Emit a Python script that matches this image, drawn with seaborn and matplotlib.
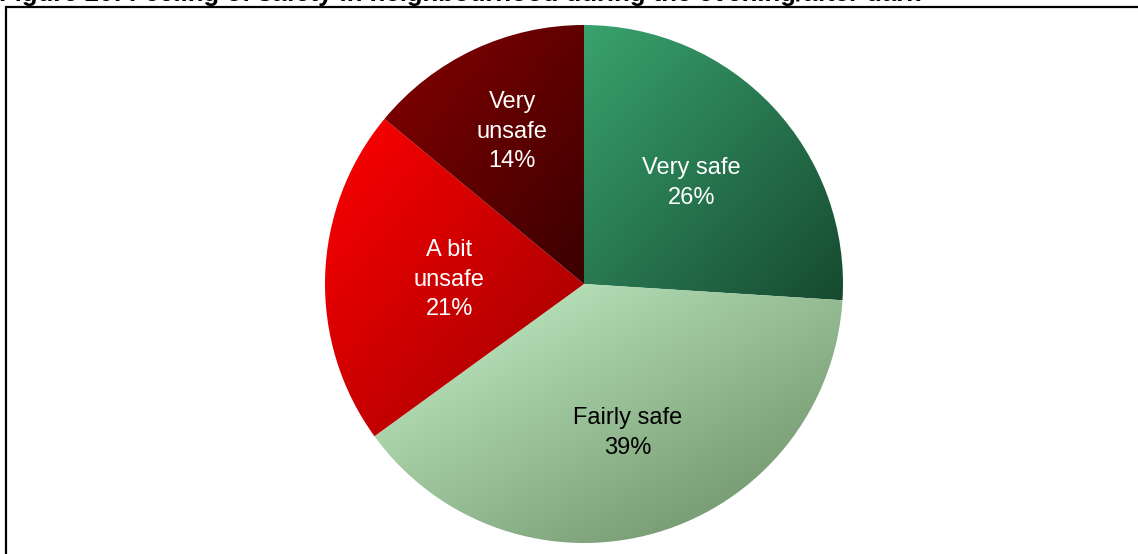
"""Pie chart: feeling of safety in neighbourhood during the evening/after dark."""
import matplotlib.pyplot as plt
import numpy as np
import seaborn as sns
from matplotlib.colors import LinearSegmentedColormap
from matplotlib.patches import Rectangle

TITULO = "Figure 20: Feeling of safety in neighbourhood during the evening/after dark"
CATEGORIAS = ["Very safe", "Fairly safe", "A bit\nunsafe", "Very\nunsafe"]
PERCENTUAIS = [26, 39, 21, 14]
CORES_CLARAS = ["#39a36e", "#c8f4cc", "#ff0000", "#860000"]
CORES_ESCURAS = ["#164a30", "#66885f", "#9a0000", "#3a0000"]
CORES_TEXTO = ["white", "black", "white", "white"]


def preencher_gradiente(ax, wedge, cor_clara, cor_escura) -> None:
    """Preenche a fatia com um gradiente diagonal (canto superior esquerdo -> inferior direito)."""
    ext = wedge.get_path().get_extents()
    x0, y0, x1, y1 = ext.x0, ext.y0, ext.x1, ext.y1
    xs = np.linspace(0, 1, 200)
    ys = np.linspace(0, 1, 200)
    gx, gy = np.meshgrid(xs, ys)
    t = (gx + (1 - gy)) / 2
    cmap = LinearSegmentedColormap.from_list("grad", [cor_clara, cor_escura])
    im = ax.imshow(t, cmap=cmap, vmin=0, vmax=1, origin="lower",
                   extent=(x0, x1, y0, y1), interpolation="bilinear", zorder=1)
    im.set_clip_path(wedge)
    wedge.set_facecolor("none")
    wedge.set_linewidth(0)


def grafico_seguranca() -> None:
    """Gera o gráfico de pizza e salva em out.png."""
    sns.set_theme(style="white")
    plt.rcParams["font.family"] = ["Liberation Sans", "DejaVu Sans"]

    fig = plt.figure(figsize=(11.38, 5.54), dpi=100)
    fig.patch.set_facecolor("white")

    # eixo do gráfico: centro (584, 284) px, raio 259 px
    ax = fig.add_axes([325 / 1138, 11 / 554, 518 / 1138, 518 / 554])
    wedges, _ = ax.pie(PERCENTUAIS, startangle=90, counterclock=False, radius=1.0,
                       wedgeprops={"linewidth": 0})

    distancias = [0.57, 0.60, 0.52, 0.65]
    for i, wedge in enumerate(wedges):
        preencher_gradiente(ax, wedge, CORES_CLARAS[i], CORES_ESCURAS[i])
        ang = np.deg2rad((wedge.theta1 + wedge.theta2) / 2)
        d = distancias[i]
        ax.text(d * np.cos(ang), d * np.sin(ang), f"{CATEGORIAS[i]}\n{PERCENTUAIS[i]}%",
                ha="center", va="center", multialignment="center", fontsize=17,
                color=CORES_TEXTO[i], linespacing=1.45, zorder=3)

    ax.set_xlim(-1, 1)
    ax.set_ylim(-1, 1)
    ax.set_aspect("equal")
    ax.axis("off")

    # título (cortado no topo, como no original)
    fig.text(-0.001, 1 - 1.5 / 554, TITULO, fontsize=18.5, fontweight="bold",
             ha="left", va="baseline", color="black")

    # moldura
    moldura = Rectangle((5.5 / 1138, -0.5), 2.0, 0.5 + 1 - 7 / 554, transform=fig.transFigure,
                        fill=False, edgecolor="black", linewidth=1.6)
    fig.add_artist(moldura)

    plt.savefig("out.png", dpi=100)
    plt.close()


if __name__ == "__main__":
    grafico_seguranca()
